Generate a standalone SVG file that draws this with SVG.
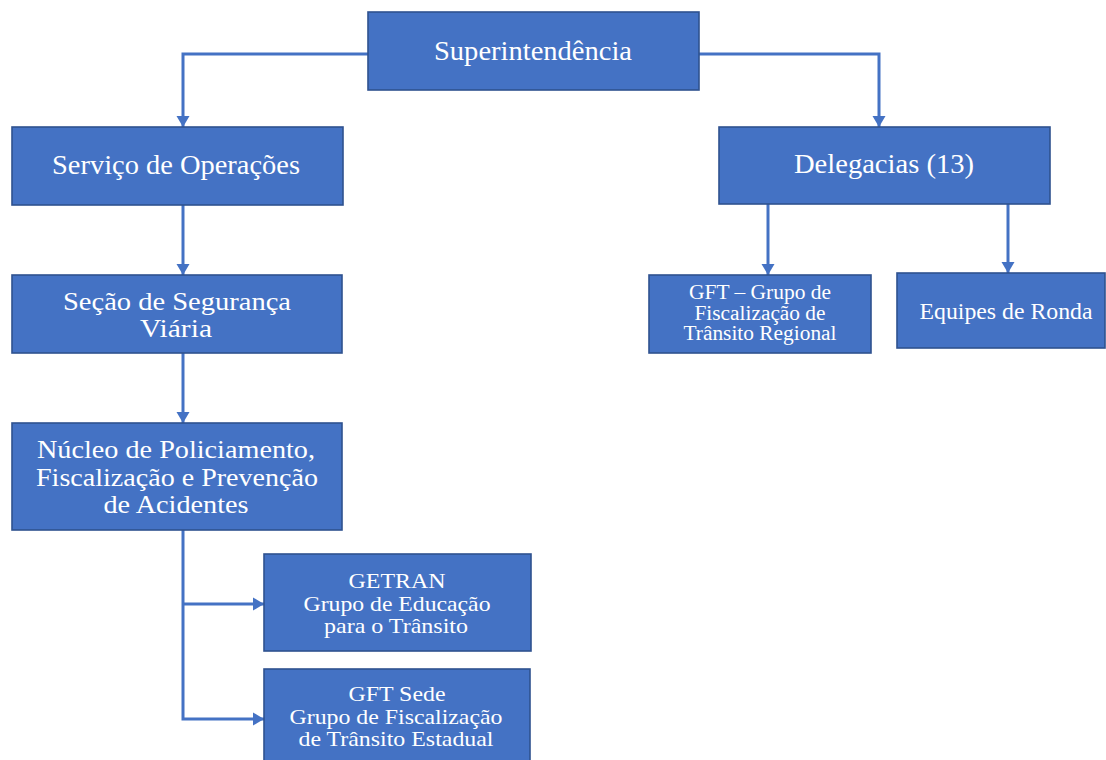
<svg xmlns="http://www.w3.org/2000/svg" width="1106" height="760" viewBox="0 0 1106 760">
<style>
.box{fill:#4472C4;stroke:#2F528F;stroke-width:1.6}
.lbl{fill:#FFFFFF;text-anchor:middle;font-family:"Liberation Serif","Times New Roman",serif}
.conn{fill:none;stroke:#4472C4;stroke-width:3}
</style>
<defs>
<marker id="arr" markerUnits="userSpaceOnUse" markerWidth="12" markerHeight="14" refX="11" refY="7" orient="auto" viewBox="0 0 12 14">
<path d="M0,0.5 L11,7 L0,13.5 Z" fill="#4472C4"/>
</marker>
</defs>
<rect width="1106" height="760" fill="#FFFFFF"/>
<g id="connectors">
<path class="conn" d="M368,54 H183 V127" marker-end="url(#arr)"/>
<path class="conn" d="M699,54 H879 V127" marker-end="url(#arr)"/>
<path class="conn" d="M183,205 V275" marker-end="url(#arr)"/>
<path class="conn" d="M183,353 V423" marker-end="url(#arr)"/>
<path class="conn" d="M768,204 V275" marker-end="url(#arr)"/>
<path class="conn" d="M1008,204 V273" marker-end="url(#arr)"/>
<path class="conn" d="M183,530 V719 H264" marker-end="url(#arr)"/>
<path class="conn" d="M183,604 H264" marker-end="url(#arr)"/>
</g>
<g id="superintendencia">
<rect class="box" x="368" y="12" width="331" height="78"/>
<text class="lbl" x="533" y="60" font-size="28" textLength="198" lengthAdjust="spacingAndGlyphs">Superintendência</text>
</g>
<g id="servico">
<rect class="box" x="12" y="127" width="331" height="78"/>
<text class="lbl" x="176" y="174" font-size="28" textLength="248" lengthAdjust="spacingAndGlyphs">Serviço de Operações</text>
</g>
<g id="delegacias">
<rect class="box" x="719" y="127" width="331" height="77"/>
<text class="lbl" x="884" y="173" font-size="27" textLength="180" lengthAdjust="spacingAndGlyphs">Delegacias (13)</text>
</g>
<g id="secao">
<rect class="box" x="12" y="275" width="330" height="78"/>
<text class="lbl" x="177" y="310" font-size="25" textLength="228" lengthAdjust="spacingAndGlyphs">Seção de Segurança</text>
<text class="lbl" x="176" y="337" font-size="25" textLength="72" lengthAdjust="spacingAndGlyphs">Viária</text>
</g>
<g id="nucleo">
<rect class="box" x="12" y="423" width="330" height="107"/>
<text class="lbl" x="176" y="458" font-size="25" textLength="278" lengthAdjust="spacingAndGlyphs">Núcleo de Policiamento,</text>
<text class="lbl" x="177" y="486" font-size="25" textLength="282" lengthAdjust="spacingAndGlyphs">Fiscalização e Prevenção</text>
<text class="lbl" x="176" y="513" font-size="25" textLength="145" lengthAdjust="spacingAndGlyphs">de Acidentes</text>
</g>
<g id="gft-regional">
<rect class="box" x="649" y="275" width="222" height="78"/>
<text class="lbl" x="760" y="299" font-size="20" textLength="142" lengthAdjust="spacingAndGlyphs">GFT – Grupo de</text>
<text class="lbl" x="760" y="320" font-size="20" textLength="131" lengthAdjust="spacingAndGlyphs">Fiscalização de</text>
<text class="lbl" x="760" y="340" font-size="20" textLength="153" lengthAdjust="spacingAndGlyphs">Trânsito Regional</text>
</g>
<g id="equipes">
<rect class="box" x="897" y="273" width="208" height="75"/>
<text class="lbl" x="1006" y="319" font-size="23" textLength="173" lengthAdjust="spacingAndGlyphs">Equipes de Ronda</text>
</g>
<g id="getran">
<rect class="box" x="264" y="554" width="267" height="97"/>
<text class="lbl" x="397" y="588" font-size="21" textLength="97" lengthAdjust="spacingAndGlyphs">GETRAN</text>
<text class="lbl" x="397" y="611" font-size="21" textLength="187" lengthAdjust="spacingAndGlyphs">Grupo de Educação</text>
<text class="lbl" x="396" y="633" font-size="21" textLength="144" lengthAdjust="spacingAndGlyphs">para o Trânsito</text>
</g>
<g id="gft-sede">
<rect class="box" x="264" y="669" width="266" height="100"/>
<text class="lbl" x="397" y="701" font-size="21" textLength="97" lengthAdjust="spacingAndGlyphs">GFT Sede</text>
<text class="lbl" x="396" y="724" font-size="21" textLength="213" lengthAdjust="spacingAndGlyphs">Grupo de Fiscalização</text>
<text class="lbl" x="396" y="746" font-size="21" textLength="195" lengthAdjust="spacingAndGlyphs">de Trânsito Estadual</text>
</g>
</svg>
